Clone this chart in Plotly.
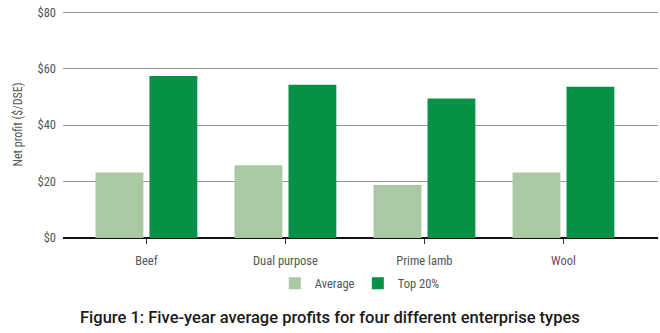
import plotly.graph_objects as go

categories = ["Beef", "Dual purpose", "Prime lamb", "Wool"]
average = [23.2, 25.8, 18.8, 23.2]
top_20 = [57.4, 54.3, 49.4, 53.6]
y_ticks = [0, 20, 40, 60, 80]
y_tick_labels = ["$0", "$20", "$40", "$60", "$80"]

FONT = "Roboto Condensed, Roboto, DejaVu Sans Condensed, sans-serif"
LIGHT_GREEN = "#a9c8a3"
DARK_GREEN = "#079146"

fig = go.Figure()
fig.add_trace(go.Bar(x=categories, y=average, name="Average", legend="legend",
                     marker=dict(color=LIGHT_GREEN, line_width=0)))
fig.add_trace(go.Bar(x=categories, y=top_20, name="Top 20%", legend="legend2",
                     marker=dict(color=DARK_GREEN, line_width=0)))

legend_style = dict(orientation="h", xanchor="left", y=-0.135, yanchor="top",
                    font=dict(size=12.5, color="#555555"), itemwidth=30,
                    bgcolor="rgba(0,0,0,0)")

fig.update_layout(
    width=660, height=333,
    margin=dict(l=63, r=2, t=11, b=95),
    paper_bgcolor="white", plot_bgcolor="white",
    barmode="group", bargap=0.224, bargroupgap=0.113,
    font=dict(family=FONT, size=12, color="#555555"),
    showlegend=True,
    legend=dict(x=0.356, **legend_style),
    legend2=dict(x=0.4955, **legend_style),
    annotations=[dict(
        text="Figure 1: Five-year average profits for four different enterprise types",
        xref="paper", yref="paper", x=0.449, y=-0.298, xanchor="center", yanchor="top",
        showarrow=False,
        font=dict(family="Roboto, sans-serif", size=16.5, weight=500, color="#1a1a1a"))],
)
fig.update_xaxes(
    range=[-0.6, 3.68], showgrid=False, showline=False, zeroline=False,
    ticks="outside", ticklen=5, tickcolor="#333333", tickwidth=1,
    tickfont=dict(size=12.5, color="#555555"), ticklabelstandoff=6,
)
fig.update_yaxes(
    range=[0, 80.4], tickvals=y_ticks, ticktext=y_tick_labels,
    showgrid=True, gridcolor="#999999", gridwidth=1,
    zeroline=True, zerolinecolor="#111111", zerolinewidth=2,
    showline=False, ticks="", tickfont=dict(size=12.5, color="#555555"),
    ticklabelstandoff=6,
    title=dict(text="Net profit ($/DSE)", font=dict(size=12, color="#555555"), standoff=12),
)

fig.write_html("out.html")
